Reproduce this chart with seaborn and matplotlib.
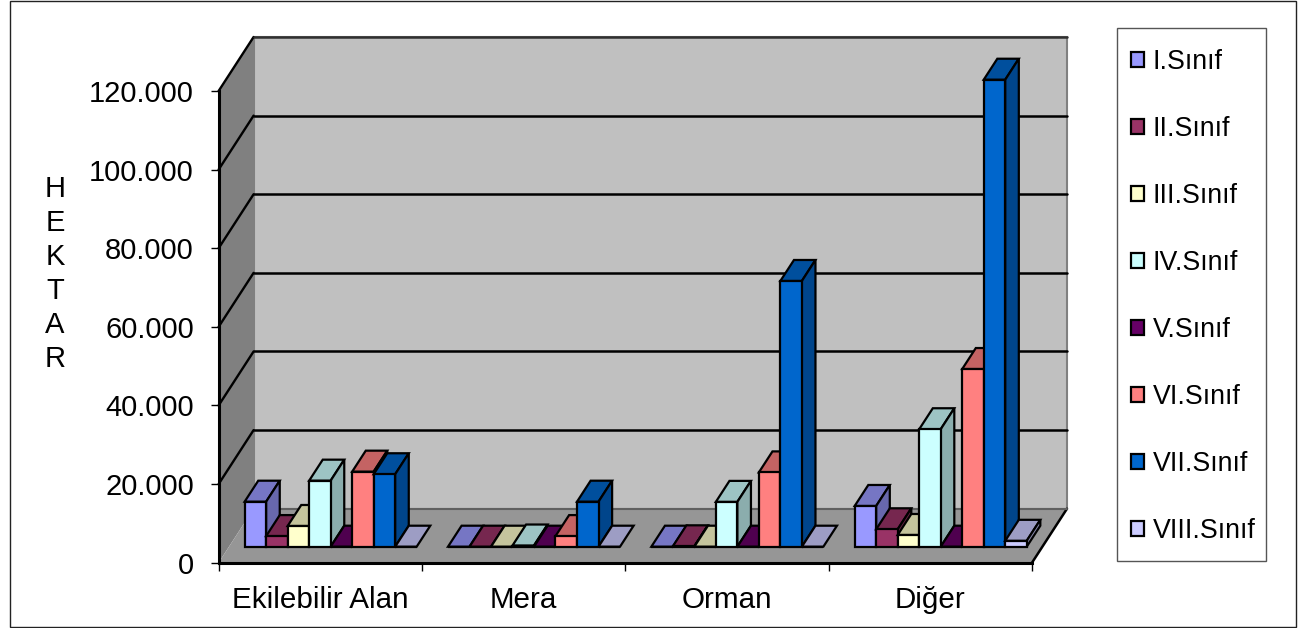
import pandas as pd
import seaborn as sns
import matplotlib.pyplot as plt
from matplotlib.patches import Patch, Polygon, Rectangle
from matplotlib.ticker import FuncFormatter

categories = ["Ekilebilir Alan", "Mera", "Orman", "Diğer"]
classes = ["I.Sınıf", "II.Sınıf", "III.Sınıf", "IV.Sınıf",
           "V.Sınıf", "VI.Sınıf", "VII.Sınıf", "VIII.Sınıf"]
colors = ["#9999FF", "#993366", "#FFFFCC", "#CCFFFF",
          "#660066", "#FF8080", "#0066CC", "#CCCCFF"]

ekilebilir = [11450, 2700, 5270, 16800, 0, 19090, 18430, 0]
mera = [0, 0, 0, 300, 0, 2700, 11450, 0]
orman = [0, 100, 0, 11400, 0, 18900, 67600, 0]
diger = [10360, 4430, 2980, 29880, 0, 45200, 118800, 1500]
yticks = [0, 20000, 40000, 60000, 80000, 100000, 120000]

rows = []
for cat, vals in zip(categories, [ekilebilir, mera, orman, diger]):
    for cl, v in zip(classes, vals):
        rows.append({"kategori": cat, "sinif": cl, "hektar": v})
df = pd.DataFrame(rows)

W, H = 1298, 628
sns.set_theme(style="white")
plt.rcParams["font.family"] = ["Liberation Sans", "DejaVu Sans"]

fig = plt.figure(figsize=(W / 100, H / 100), dpi=100, facecolor="white")
ax = fig.add_axes([218.6 / W, (H - 562.7) / H, 813.4 / W, 471.7 / H])
ax.patch.set_visible(False)

sns.barplot(data=df, x="kategori", y="hektar", hue="sinif", hue_order=classes,
            palette=colors, saturation=1, width=0.846, gap=0, dodge=True,
            edgecolor="black", linewidth=1.6, legend=False, ax=ax)
ax.set_xlim(-0.5, 3.5)
ax.set_ylim(0, 120000)

# depth of the fake 3d box in data units
DX = 35 / (813.4 / 4)
DY = 54 / 78.62 * 20000
front = 16 / 54
back = 37 / 54


def shade(c, f):
    r, g, b = plt.matplotlib.colors.to_rgb(c)
    return (r * f, g * f, b * f)


x0, x1 = -0.5, 3.5
ax.add_patch(Polygon([(x0, 0), (x0 + DX, DY), (x0 + DX, 120000 + DY), (x0, 120000)],
                     fc="#808080", ec="none", clip_on=False, zorder=1))
ax.add_patch(Rectangle((x0 + DX, DY), x1 - x0, 120000, fc="#C0C0C0", ec="#808080",
                       lw=1.5, clip_on=False, zorder=1))
ax.add_patch(Polygon([(x0, 0), (x1, 0), (x1 + DX, DY), (x0 + DX, DY)],
                     fc="#969696", ec="none", clip_on=False, zorder=1.1))
ax.plot([x1, x1 + DX], [0, DY], color="black", lw=1.8, clip_on=False, zorder=1.2)
ax.plot([x0 + DX, x1 + DX], [DY, DY], color="#606060", lw=1.5, clip_on=False, zorder=1.2)

for v in yticks[1:]:
    c = "black" if v < 120000 else "#303030"
    ax.plot([x0, x0 + DX], [v, v + DY], color="black", lw=1.7, clip_on=False, zorder=1.5)
    ax.plot([x0 + DX, x1 + DX], [v + DY, v + DY], color=c, lw=1.8, clip_on=False, zorder=1.5)

# push the bars into the box and give them a top and a side
for h, bars in enumerate(ax.containers):
    for bar in bars:
        bar.set_x(bar.get_x() + DX * front)
        bar.set_y(bar.get_y() + DY * front)
        bar.set_clip_on(False)
        bar.set_zorder(3 + h * 0.1 + 0.02)
        bx, by, bw, bh = bar.get_x(), bar.get_y(), bar.get_width(), bar.get_height()
        ox = DX * (back - front)
        oy = DY * (back - front)
        ax.add_patch(Polygon([(bx, by + bh), (bx + bw, by + bh),
                              (bx + bw + ox, by + bh + oy), (bx + ox, by + bh + oy)],
                             fc=shade(colors[h], 0.77), ec="black", lw=1.6,
                             clip_on=False, zorder=3 + h * 0.1 + 0.01))
        if bh > 0:
            ax.add_patch(Polygon([(bx + bw, by), (bx + bw + ox, by + oy),
                                  (bx + bw + ox, by + bh + oy), (bx + bw, by + bh)],
                                 fc=shade(colors[h], 0.68), ec="black", lw=1.6,
                                 clip_on=False, zorder=3 + h * 0.1 + 0.01))

sns.despine(ax=ax, top=True, right=True)
for side in ["left", "bottom"]:
    ax.spines[side].set_color("black")
    ax.spines[side].set_linewidth(2.2)
    ax.spines[side].set_zorder(2)

ax.set_yticks(yticks)
ax.yaxis.set_major_formatter(FuncFormatter(lambda v, p: f"{int(v):,}".replace(",", ".")))
ax.set_xticks([-0.5, 0.5, 1.5, 2.5, 3.5])
ax.set_xticklabels([])
ax.set_xticks([0, 1, 2, 3], minor=True)
ax.set_xticklabels(categories, minor=True, fontsize=21.3, color="black")
ax.tick_params(axis="y", which="major", left=True, length=6, width=1, color="black",
               pad=11.8, labelsize=21, labelcolor="black")
ax.tick_params(axis="x", which="major", bottom=True, length=6, width=1, color="black")
ax.tick_params(axis="x", which="minor", bottom=False, length=0, pad=17)
ax.set_xlabel("")
ax.set_ylabel("H\nE\nK\nT\nA\nR", rotation=0, fontsize=21, color="black",
              ha="center", va="center", linespacing=1.27)
ax.yaxis.set_label_coords((55 - 218.6) / 813.4, (562.7 - 274) / 471.7)

# legend box and outer chart border
fig.add_artist(Rectangle((1117 / W, (H - 561) / H), 149 / W, 533 / H, transform=fig.transFigure,
                         fc="white", ec="#555555", lw=1))
fig.add_artist(Rectangle((10 / W, (H - 627) / H), 1286 / W, 626 / H, transform=fig.transFigure,
                         fc="none", ec="#222222", lw=1))
handles = [Patch(facecolor=c, edgecolor="black", linewidth=1.6) for c in colors]
fig.legend(handles, classes, loc="upper left", bbox_to_anchor=(1130.5 / W, (H - 49) / H),
           frameon=False, fontsize=19.3, borderpad=0, borderaxespad=0, handlelength=0.52,
           handleheight=0.5, handletextpad=0.3, labelspacing=1.53, labelcolor="black")

fig.savefig("out.png", dpi=100)
